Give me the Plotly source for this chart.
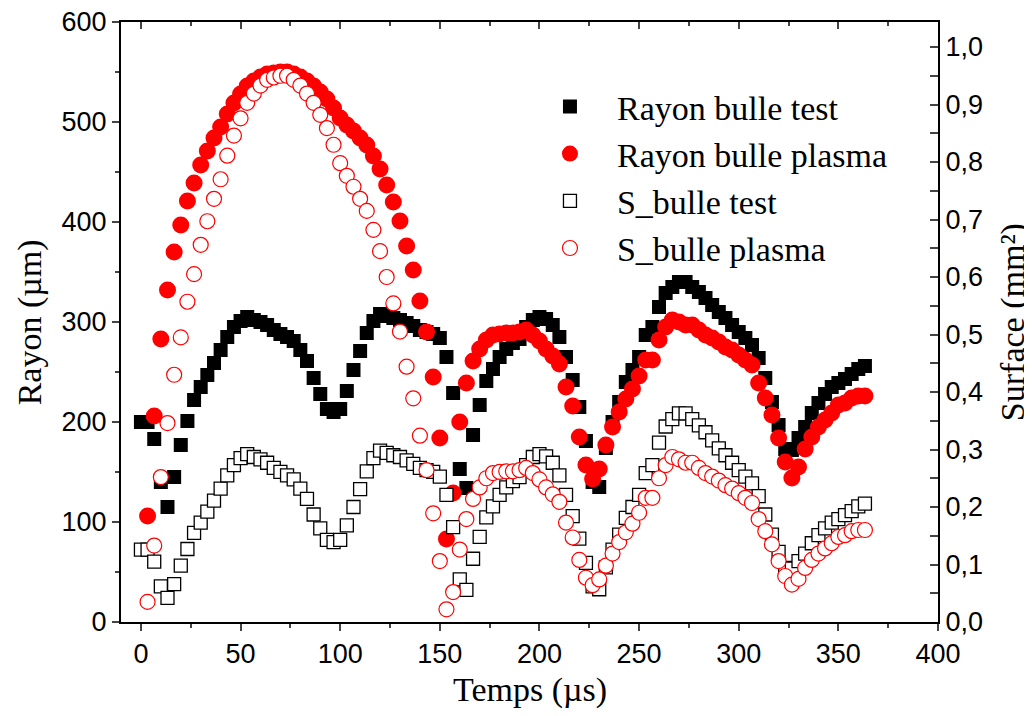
import plotly.graph_objects as go

# Time grid (µs), one frame every 3.33 µs
temps = [0, 3.33, 6.67, 10, 13.33, 16.67, 20, 23.33, 26.67, 30, 33.33, 36.67, 40, 43.33, 46.67,
         50, 53.33, 56.67, 60, 63.33, 66.67, 70, 73.33, 76.67, 80, 83.33, 86.67, 90, 93.33, 96.67,
         100, 103.33, 106.67, 110, 113.33, 116.67, 120, 123.33, 126.67, 130, 133.33, 136.67, 140,
         143.33, 146.67, 150, 153.33, 156.67, 160, 163.33, 166.67, 170, 173.33, 176.67, 180, 183.33,
         186.67, 190, 193.33, 196.67, 200, 203.33, 206.67, 210, 213.33, 216.67, 220, 223.33, 226.67,
         230, 233.33, 236.67, 240, 243.33, 246.67, 250, 253.33, 256.67, 260, 263.33, 266.67, 270,
         273.33, 276.67, 280, 283.33, 286.67, 290, 293.33, 296.67, 300, 303.33, 306.67, 310, 313.33,
         316.67, 320, 323.33, 326.67, 330, 333.33, 336.67, 340, 343.33, 346.67, 350, 353.33, 356.67,
         360, 363.33]

# Rayon bulle test (µm), from t = 0
rayon_test = [200, 200, 183, 140, 115, 145, 177, 201, 222, 235, 247, 259, 272, 285, 295, 301, 305,
              302, 300, 297, 292, 288, 285, 281, 272, 261, 244, 228, 213, 210, 213, 231, 252, 271,
              289, 301, 308, 306, 304, 302, 299, 296, 292, 290, 288, 284, 265, 229, 153, 134, 187,
              217, 241, 253, 265, 273, 279, 283, 295, 302, 305, 303, 297, 285, 265, 242, 215, 181,
              140, 135, 174, 200, 220, 240, 252, 265, 287, 295, 315, 329, 335, 340, 340, 335, 330,
              324, 317, 310, 304, 297, 290, 284, 277, 264, 244, 220, 197, 173, 172, 184, 195, 209,
              219, 228, 235, 239, 243, 248, 253, 256]

# Rayon bulle plasma (µm), from t = 3.33
rayon_plasma = [106, 206, 283, 332, 370, 397, 421, 439, 457, 471, 484, 495, 508, 519, 528, 536,
                541, 545, 548, 549, 550, 550, 548, 545, 541, 536, 530, 523, 514, 504, 497, 491,
                484, 477, 466, 453, 437, 420, 401, 376, 352, 321, 290, 245, 184, 83, 129, 200,
                239, 261, 273, 282, 287, 288, 289, 289, 290, 292, 287, 281, 273, 266, 258, 235,
                216, 185, 157, 143, 153, 177, 195, 210, 223, 233, 246, 262, 262, 282, 295, 302,
                300, 297, 297, 292, 287, 284, 280, 275, 272, 267, 262, 257, 239, 224, 207, 184,
                160, 144, 155, 173, 185, 195, 202, 209, 217, 219, 224, 226, 226]

# S_bulle test (mm²), from t = 0
surface_test = [0.126, 0.126, 0.105, 0.062, 0.042, 0.066, 0.098, 0.127, 0.155, 0.173, 0.192, 0.211,
                0.232, 0.255, 0.273, 0.285, 0.292, 0.287, 0.283, 0.277, 0.268, 0.261, 0.255, 0.248,
                0.232, 0.214, 0.187, 0.163, 0.143, 0.139, 0.143, 0.168, 0.200, 0.231, 0.262, 0.285,
                0.298, 0.294, 0.290, 0.287, 0.281, 0.275, 0.268, 0.264, 0.261, 0.253, 0.221, 0.165,
                0.074, 0.056, 0.110, 0.148, 0.182, 0.201, 0.221, 0.234, 0.245, 0.252, 0.273, 0.287,
                0.292, 0.288, 0.277, 0.255, 0.221, 0.184, 0.145, 0.103, 0.062, 0.057, 0.095, 0.126,
                0.152, 0.181, 0.200, 0.221, 0.259, 0.273, 0.312, 0.340, 0.353, 0.363, 0.363, 0.353,
                0.342, 0.330, 0.316, 0.302, 0.290, 0.277, 0.264, 0.253, 0.241, 0.219, 0.187, 0.152,
                0.122, 0.094, 0.093, 0.106, 0.119, 0.137, 0.151, 0.163, 0.173, 0.179, 0.186, 0.193,
                0.201, 0.206]

# S_bulle plasma (mm²), from t = 3.33
surface_plasma = [0.035, 0.133, 0.252, 0.346, 0.430, 0.495, 0.557, 0.605, 0.656, 0.697, 0.736,
                  0.770, 0.811, 0.846, 0.876, 0.903, 0.919, 0.933, 0.943, 0.947, 0.950, 0.950,
                  0.943, 0.933, 0.919, 0.903, 0.882, 0.859, 0.830, 0.798, 0.776, 0.757, 0.736,
                  0.715, 0.682, 0.645, 0.600, 0.554, 0.505, 0.444, 0.389, 0.324, 0.264, 0.189,
                  0.106, 0.022, 0.052, 0.126, 0.179, 0.214, 0.234, 0.250, 0.259, 0.261, 0.262,
                  0.262, 0.264, 0.268, 0.259, 0.248, 0.234, 0.222, 0.209, 0.173, 0.147, 0.108,
                  0.077, 0.064, 0.074, 0.098, 0.119, 0.139, 0.156, 0.171, 0.190, 0.216, 0.216,
                  0.250, 0.273, 0.287, 0.283, 0.277, 0.277, 0.268, 0.259, 0.253, 0.246, 0.238,
                  0.232, 0.224, 0.216, 0.207, 0.179, 0.158, 0.135, 0.106, 0.080, 0.065, 0.075,
                  0.094, 0.108, 0.119, 0.128, 0.137, 0.148, 0.151, 0.158, 0.160, 0.160]

temps_plasma = temps[1:]

x_ticks = [0, 50, 100, 150, 200, 250, 300, 350, 400]
y_left_ticks = [0, 100, 200, 300, 400, 500, 600]
y_right_ticks = [0.0, 0.1, 0.2, 0.3, 0.4, 0.5, 0.6, 0.7, 0.8, 0.9, 1.0]
y_right_labels = ["0,0", "0,1", "0,2", "0,3", "0,4", "0,5", "0,6", "0,7", "0,8", "0,9", "1,0"]

SERIF = "Liberation Serif, Times New Roman, serif"
NARROW = "Liberation Sans Narrow, Arial Narrow, Liberation Sans, Arial, sans-serif"

fig = go.Figure()
fig.add_trace(go.Scatter(x=temps, y=rayon_test, mode="markers", name="Rayon bulle test",
                         marker=dict(symbol="square", size=14, color="black", line=dict(width=0))))
fig.add_trace(go.Scatter(x=temps_plasma, y=rayon_plasma, mode="markers", name="Rayon bulle plasma",
                         marker=dict(symbol="circle", size=17, color="#ff0000", line=dict(width=0))))
fig.add_trace(go.Scatter(x=temps, y=surface_test, mode="markers", name="S_bulle test", yaxis="y2",
                         marker=dict(symbol="square", size=13, color="white",
                                     line=dict(width=1.3, color="black"))))
fig.add_trace(go.Scatter(x=temps_plasma, y=surface_plasma, mode="markers", name="S_bulle plasma",
                         yaxis="y2",
                         marker=dict(symbol="circle", size=15, color="white",
                                     line=dict(width=1.2, color="#ff0000"))))
# top axis carrier (no visible data)
fig.add_trace(go.Scatter(x=[None], y=[None], xaxis="x2", showlegend=False, hoverinfo="skip"))

title_font = dict(family=SERIF, size=34, color="black")

# the page adds an 8 px body margin, so the figure is 8 px smaller and margins shifted
fig.update_layout(
    width=1024, height=708,
    margin=dict(l=113, r=94, t=14, b=94, autoexpand=False),
    paper_bgcolor="white", plot_bgcolor="white",
    showlegend=True,
    legend=dict(x=0.492, y=0.907, xanchor="left", yanchor="top",
                font=dict(family=SERIF, size=34, color="black"),
                bgcolor="rgba(0,0,0,0)", itemsizing="trace", itemwidth=84,
                tracegroupgap=0),
    xaxis=dict(range=[-10, 400], tickvals=x_ticks, ticks="outside", ticklen=7, tickwidth=2,
               minor=dict(dtick=25, ticks="outside", ticklen=4, tickwidth=2),
               showline=True, linewidth=2, linecolor="black", showgrid=False, zeroline=False,
               automargin=False, ticklabeloverflow="allow",
               tickfont=dict(family=NARROW, size=27, color="black")),
    xaxis2=dict(range=[-10, 400], overlaying="x", side="top", tickvals=x_ticks, ticks="inside",
                ticklen=7, tickwidth=2, showticklabels=False, automargin=False,
                minor=dict(dtick=25, ticks="inside", ticklen=4, tickwidth=2),
                showline=True, linewidth=2, linecolor="black", showgrid=False, zeroline=False),
    yaxis=dict(range=[0, 600], tickvals=y_left_ticks, ticks="outside", ticklen=7, tickwidth=2,
               minor=dict(dtick=50, ticks="outside", ticklen=4, tickwidth=2),
               showline=True, linewidth=2, linecolor="black", showgrid=False, zeroline=False,
               automargin=False, ticklabeloverflow="allow",
               tickfont=dict(family=NARROW, size=27, color="black")),
    yaxis2=dict(range=[0, 1.0435], overlaying="y", side="right", tickvals=y_right_ticks,
                ticktext=y_right_labels, ticks="inside", ticklen=8, tickwidth=2,
                minor=dict(dtick=0.05, ticks="inside", ticklen=8, tickwidth=2),
                showline=True, linewidth=2, linecolor="black", showgrid=False, zeroline=False,
                automargin=False, ticklabeloverflow="allow",
                tickfont=dict(family=NARROW, size=27, color="black")),
    annotations=[
        dict(text="Temps (µs)", xref="paper", yref="paper", x=0.5, y=-0.113,
             xanchor="center", yanchor="middle", showarrow=False, font=title_font),
        dict(text="Rayon (µm)", xref="paper", yref="paper", x=-0.111, y=0.5,
             xanchor="center", yanchor="middle", showarrow=False, textangle=-90, font=title_font),
        dict(text="Surface (mm²)", xref="paper", yref="paper", x=1.092, y=0.5,
             xanchor="center", yanchor="middle", showarrow=False, textangle=-90, font=title_font),
    ],
)

fig.write_html("out.html")
